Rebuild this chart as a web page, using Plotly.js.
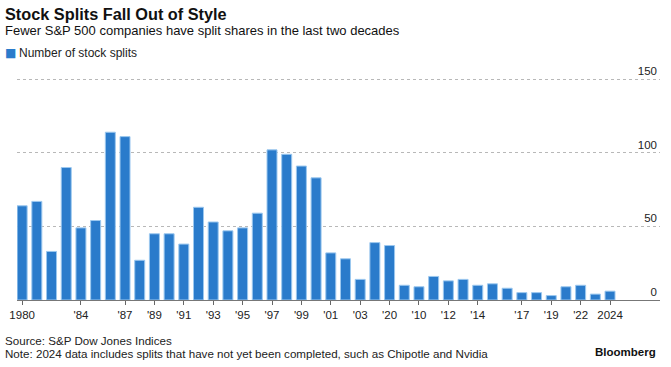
<!DOCTYPE html>
<html>
<head>
<meta charset="utf-8">
<script src="https://cdn.plot.ly/plotly-3.0.1.min.js"></script>
<style>html,body{margin:0;padding:0;background:#fff;}#chart{width:671px;height:367px;}</style>
</head>
<body>
<div id="chart"></div>
<script>
// Categories (years shown as bars)
const categories = ['1980','1981','1982','1983','1984','1985','1986','1987','1988','1989',
  '1990','1991','1992','1993','1994','1995','1996','1997','1998','1999',
  '2000','2001','2002','2003','2004','2005','2006','2010','2011','2012',
  '2013','2014','2015','2016','2017','2018','2019','2021','2022','2023','2024'];
// Number of stock splits
const splits = [64,67,33,90,49,54,114,111,27,45,
  45,38,63,53,47,49,59,102,99,91,
  83,32,28,14,39,37,10,9,16,13,
  14,10,11,8,5,5,3,9,10,4,6];
// Tick labels as printed on the chart
const tickCats = ['1980','1984','1987','1989','1991','1993','1995','1997','1999','2001','2003','2005','2010','2012','2014','2017','2019','2022','2024'];
const tickLabels = ['1980',"'84","'87","'89","'91","'93","'95","'97","'99","'01","'03","'20","'10","'12","'14","'17","'19","'22",'2024'];
const yTicks = [0,50,100,150];
const seriesName = 'Number of stock splits';

const FONT = 'Liberation Sans, Arial, sans-serif';
const BAR = '#2a7bcb';

const trace = {
  type: 'bar',
  x: categories,
  y: splits,
  name: seriesName,
  marker: {color: BAR, line: {color: '#9cc8ef', width: 1}},
  width: 0.68,
  hoverinfo: 'x+y'
};

const layout = {
  width: 671, height: 367,
  margin: {l: 17, r: 11, t: 62, b: 67, autoexpand: false},
  paper_bgcolor: '#fff', plot_bgcolor: '#fff',
  font: {family: FONT, size: 11, color: '#222'},
  showlegend: false,
  xaxis: {
    type: 'category',
    range: [-0.35, 43.4],
    tickmode: 'array', tickvals: tickCats, ticktext: tickLabels,
    ticks: 'outside', ticklen: 4, tickcolor: '#666', tickwidth: 1,
    showline: true, linecolor: '#777', linewidth: 1,
    showgrid: false, zeroline: false,
    tickfont: {family: FONT, size: 11.5, color: '#222'},
    fixedrange: true
  },
  yaxis: {
    range: [0, 161.7],
    side: 'right',
    tickmode: 'array', tickvals: yTicks, ticktext: yTicks.map(String),
    ticklabelposition: 'inside top',
    ticks: '',
    showgrid: true, gridcolor: '#b8b8b8', griddash: 'dot', gridwidth: 1,
    zeroline: false, showline: false,
    tickfont: {family: FONT, size: 11.5, color: '#222'},
    fixedrange: true
  },
  annotations: [
    {text: '<b>Stock Splits Fall Out of Style</b>', xanchor: 'left',
     font: {family: FONT, size: 16.3, color: '#111'}},
    {text: 'Fewer S&amp;P 500 companies have split shares in the last two decades', xanchor: 'left',
     font: {family: FONT, size: 13, color: '#111'}},
    {text: '■', xanchor: 'left',
     font: {family: 'DejaVu Sans, sans-serif', size: 12, color: BAR}},
    {text: seriesName, xanchor: 'left',
     font: {family: FONT, size: 12, color: '#222'}},
    {text: 'Source: S&amp;P Dow Jones Indices', xanchor: 'left',
     font: {family: FONT, size: 11.6, color: '#222'}},
    {text: 'Note: 2024 data includes splits that have not yet been completed, such as Chipotle and Nvidia', xanchor: 'left',
     font: {family: FONT, size: 11.6, color: '#222'}},
    {text: '<b>Bloomberg</b>', xanchor: 'right',
     font: {family: FONT, size: 11.5, color: '#111'}}
  ]
};

// Place header/footer text in pixel terms relative to the plot area
const plotW = 671 - layout.margin.l - layout.margin.r;
const plotH = 367 - layout.margin.t - layout.margin.b;
function px(xp) { return (xp - layout.margin.l) / plotW; }
function py(yp) { return (367 - layout.margin.b - yp) / plotH; }
const pos = [[3,14],[3,30],[3,53],[17,53],[3,340],[3,353],[658,352]];
layout.annotations.forEach((a, i) => {
  Object.assign(a, {xref: 'paper', yref: 'paper', yanchor: 'middle', showarrow: false,
    x: px(pos[i][0]), y: py(pos[i][1])});
});

Plotly.newPlot('chart', [trace], layout, {displayModeBar: false, staticPlot: true});
</script>
</body>
</html>
